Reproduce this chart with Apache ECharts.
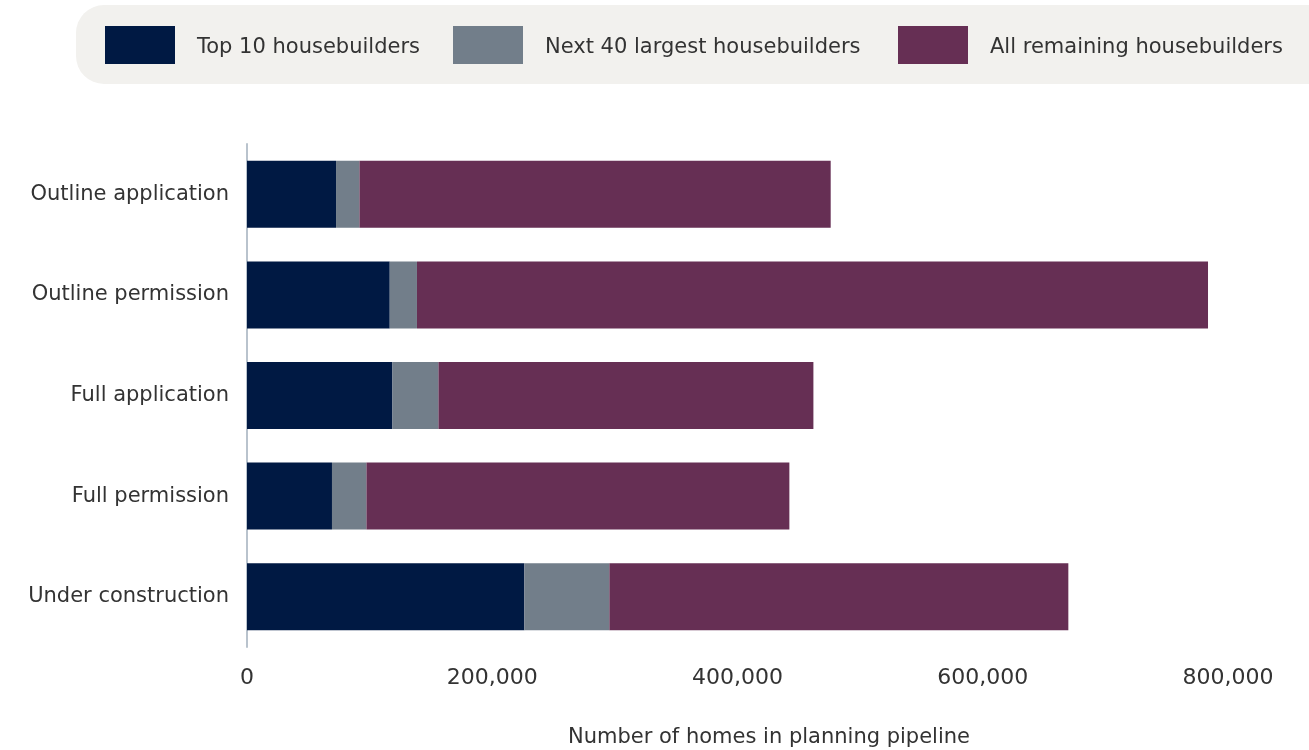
<!DOCTYPE html>
<html>
<head>
<meta charset="utf-8">
<script src="https://cdn.jsdelivr.net/npm/echarts@6/dist/echarts.min.js"></script>
<style>
  html, body { margin: 0; padding: 0; background: #ffffff; }
  #chart { width: 1309px; height: 750px; }
</style>
</head>
<body>
<div id="chart"></div>
<script>
// Planning pipeline stages (top to bottom)
const stages = ['Outline application', 'Outline permission', 'Full application', 'Full permission', 'Under construction'];

// Homes in the pipeline by housebuilder group
const top10 = [72600, 116400, 118600, 69300, 226200];
const next40 = [19100, 22200, 37500, 28100, 69300];
const remaining = [384300, 645100, 305800, 344900, 374300];

const seriesNames = ['Top 10 housebuilders', 'Next 40 largest housebuilders', 'All remaining housebuilders'];
const seriesColors = ['#001943', '#727e8a', '#662f54'];

// x-axis ticks
const xTicks = { min: 0, max: 800000, interval: 200000 };

const FONT = '"DejaVu Sans", sans-serif';
const TEXT = '#333333';

const chart = echarts.init(document.getElementById('chart'));

const legendLefts = [100, 448, 893];
const legends = seriesNames.map((name, i) => ({
  data: [name],
  left: legendLefts[i],
  top: 21,
  itemWidth: 70,
  itemHeight: 38,
  icon: 'rect',
  selectedMode: false,
  formatter: '{t|{name}}',
  textStyle: {
    fontFamily: FONT, fontSize: 21, color: TEXT, padding: [0, 0, 0, 17],
    rich: { t: { fontFamily: FONT, fontSize: 21, color: TEXT, padding: [6, 0, 0, 0] } }
  }
}));

const dataSets = [top10, next40, remaining];

chart.setOption({
  animation: false,
  backgroundColor: '#ffffff',
  graphic: [{
    type: 'rect',
    z: -1,
    shape: { x: 76, y: 5, width: 1280, height: 79, r: 28 },
    style: { fill: '#f2f1ee' }
  }],
  legend: legends,
  grid: { left: 247, right: 81, top: 144, bottom: 103, containLabel: false, outerBoundsMode: 'none' },
  xAxis: {
    type: 'value',
    min: xTicks.min,
    max: xTicks.max,
    interval: xTicks.interval,
    axisLine: { show: false },
    axisTick: { show: false },
    splitLine: { show: false },
    axisLabel: {
      margin: 20,
      fontFamily: FONT,
      fontSize: 22,
      color: TEXT,
      formatter: v => v.toLocaleString('en-GB')
    },
    name: 'Number of homes in planning pipeline',
    nameLocation: 'middle',
    nameGap: 80,
    nameTextStyle: { fontFamily: FONT, fontSize: 21, color: TEXT, padding: [0, 0, 0, 63] }
  },
  yAxis: {
    type: 'category',
    inverse: true,
    data: stages,
    axisLine: { show: true, lineStyle: { color: '#b9c3cd', width: 2 } },
    axisTick: { show: false },
    axisLabel: { margin: 18, fontFamily: FONT, fontSize: 21, color: TEXT }
  },
  series: seriesNames.map((name, i) => ({
    name,
    type: 'bar',
    stack: 'total',
    barWidth: 67,
    itemStyle: { color: seriesColors[i] },
    data: dataSets[i]
  }))
});
</script>
</body>
</html>
